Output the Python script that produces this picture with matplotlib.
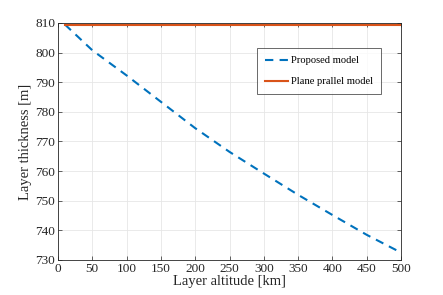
import numpy as np
import matplotlib.pyplot as plt

plt.rcParams['font.family'] = ['Liberation Serif', 'DejaVu Serif']
plt.rcParams['mathtext.fontset'] = 'stix'

# altitude [km] and layer thickness [m]
alt = [10, 50, 100, 150, 200, 250, 300, 350, 400, 450, 500]
proposed = [809.5, 800.8, 792.3, 783.4, 774.5, 766.5, 759.2, 752.0, 745.2, 738.5, 732.5]
plane = [809.3] * len(alt)

fig = plt.figure(figsize=(4.43, 2.95), dpi=100)
ax = fig.add_axes([58/443, 1-260/295, (401-58)/443, (260-23)/295])

ax.plot(alt, proposed, '--', color='#0072BD', lw=1.5, dashes=(4, 3), label='Proposed model')
ax.plot(alt, plane, '-', color='#D95319', lw=1.5, label='Plane prallel model')

ax.set_xlim(0, 500)
ax.set_ylim(730, 810)
ax.set_xticks(np.arange(0, 501, 50))
ax.set_yticks(np.arange(730, 811, 10))
ax.grid(True, color='#e6e6e6', lw=0.6)
ax.set_axisbelow(True)
ax.tick_params(direction='in', length=3, width=0.5, labelsize=9.5, colors='#262626',
               top=True, right=True, pad=2)
for s in ax.spines.values():
    s.set_linewidth(0.6)
    s.set_color('#262626')

ax.set_xlabel('Layer altitude [km]', fontsize=10.5, labelpad=0, color='#262626')
ax.set_ylabel('Layer thickness [m]', fontsize=10.5, labelpad=2, color='#262626')

leg = ax.legend(loc='upper left', bbox_to_anchor=((257-58)/343, 1-(48-23)/237),
                borderaxespad=0, fontsize=7.6, frameon=True, fancybox=False,
                edgecolor='#262626', handlelength=2.2, labelspacing=1.1,
                borderpad=0.75, handletextpad=0.3)
leg.get_frame().set_linewidth(0.6)

fig.savefig('out.png', dpi=100)
